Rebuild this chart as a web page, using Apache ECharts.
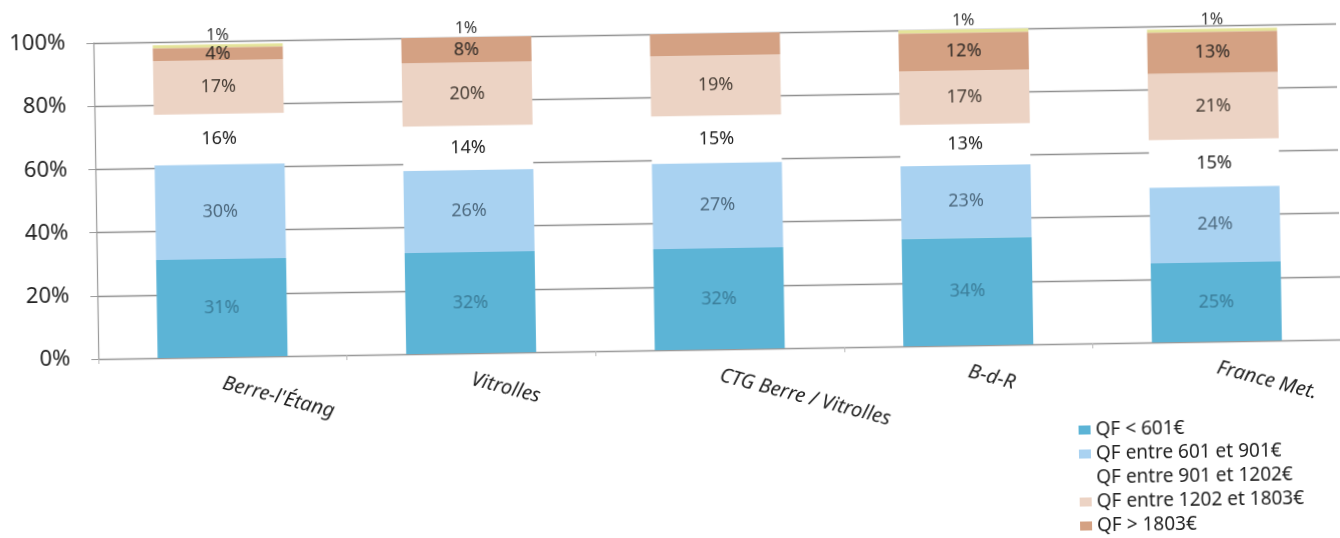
<!DOCTYPE html>
<html>
<head>
<meta charset="utf-8">
<script src="https://cdn.jsdelivr.net/npm/echarts@6/dist/echarts.min.js"></script>
<style>
  html, body { margin: 0; padding: 0; background: #fff; overflow: hidden; width: 1340px; height: 538px; }
  /* le graphique source est un scan legerement tourne */
  #chart { width: 1340px; height: 560px; transform: rotate(-0.9deg); transform-origin: 670px 269px; }
</style>
</head>
<body>
<div id="chart"></div>
<script>
const categories = ["Berre-l'Étang", 'Vitrolles', 'CTG Berre / Vitrolles', 'B-d-R', 'France Met.'];
const qfMoins601 = [31, 32, 32, 34, 25];
const qf601a901 = [30, 26, 27, 23, 24];
const qf901a1202 = [16, 14, 15, 13, 15];
const qf1202a1803 = [17, 20, 19, 17, 21];
const qfPlus1803 = [4, 8, 7, 12, 13];
const qfAutre = [1, 1, 1, 1, 1];
const yTicks = [0, 20, 40, 60, 80, 100];

const legendNames = ['QF < 601€', 'QF entre 601 et 901€', 'QF entre 901 et 1202€', 'QF entre 1202 et 1803€', 'QF > 1803€'];
const colors = ['#5cb4d6', '#a9d2f1', '#ffffff', '#ecd3c4', '#d4a183', '#e4e39a'];
const labelColors = ['#3b7d99', '#4f6b80', '#222222', '#4a4038', '#2f2a26', '#333333'];

// le CTG n'affiche pas les etiquettes des deux segments du haut
const hiddenTop = [2];

const chart = echarts.init(document.getElementById('chart'));

function makeSeries(name, values, idx, opts) {
  return Object.assign({
    name: name,
    type: 'bar',
    stack: 'QF',
    barWidth: 130,
    data: values.map((v, i) => {
      const item = { value: v };
      if (opts && opts.hide && opts.hide.indexOf(i) >= 0) item.label = { show: false };
      return item;
    }),
    itemStyle: { color: colors[idx] },
    label: {
      show: true,
      position: 'inside',
      formatter: '{c}%',
      color: labelColors[idx],
      fontSize: 18,
      fontFamily: 'Noto Sans',
    },
  }, opts && opts.extra ? opts.extra : {});
}

const option = {
  animation: false,
  backgroundColor: '#fff',
  grid: {
    left: 97,
    right: -13,
    top: 34,
    bottom: 210,
    containLabel: false,
  },
  legend: {
    data: legendNames,
    orient: 'vertical',
    left: 1076,
    top: 427,
    padding: 0,
    itemWidth: 12,
    itemHeight: 9,
    itemGap: 5,
    icon: 'rect',
    textStyle: { color: '#222', fontSize: 19, fontFamily: 'Noto Sans' },
  },
  xAxis: {
    type: 'category',
    data: categories,
    axisLine: { lineStyle: { color: '#9a9a9a', width: 1.2 } },
    axisTick: { show: true, length: 5, lineStyle: { color: '#bbbbbb' } },
    axisLabel: {
      interval: 0,
      rotate: -15.5,
      margin: 26,
      color: '#222',
      fontSize: 20,
      fontStyle: 'italic',
      fontFamily: 'Noto Sans',
    },
  },
  yAxis: {
    type: 'value',
    min: yTicks[0],
    max: yTicks[yTicks.length - 1],
    interval: yTicks[1] - yTicks[0],
    axisLine: { show: true, lineStyle: { color: '#9a9a9a', width: 1.2 } },
    axisTick: { show: true, length: 7, lineStyle: { color: '#9a9a9a' } },
    splitLine: { show: true, lineStyle: { color: '#8f8f8f', width: 1.3 } },
    axisLabel: {
      formatter: '{value}%',
      margin: 28,
      color: '#222',
      fontSize: 22,
      fontFamily: 'Noto Sans',
    },
  },
  series: [
    makeSeries(legendNames[0], qfMoins601, 0),
    makeSeries(legendNames[1], qf601a901, 1),
    makeSeries(legendNames[2], qf901a1202, 2),
    makeSeries(legendNames[3], qf1202a1803, 3),
    makeSeries(legendNames[4], qfPlus1803, 4, { hide: hiddenTop }),
    makeSeries('QF non renseigné', qfAutre, 5, {
      hide: hiddenTop,
      extra: {
        label: {
          show: true,
          position: 'top',
          distance: 1,
          formatter: '{c}%',
          color: labelColors[5],
          fontSize: 16,
          fontFamily: 'Noto Sans',
        },
      },
    }),
  ],
};

chart.setOption(option);
</script>
</body>
</html>
